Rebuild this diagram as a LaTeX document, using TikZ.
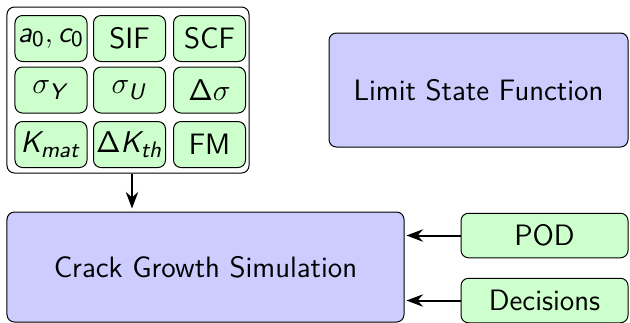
\documentclass[tikz,border=0pt]{standalone}
\usepackage{amsmath}
\usetikzlibrary{arrows.meta,calc}
\DeclareMathAlphabet{\sfit}{OT1}{cmss}{m}{sl}
\DeclareMathAlphabet{\sfup}{OT1}{cmss}{m}{n}

\begin{document}
\begin{tikzpicture}[x=0.4pt, y=-0.4pt, >=Stealth,
  every node/.style={font=\sffamily\fontsize{11.8}{14}\selectfont},
  param/.style={draw, rounded corners=3pt, fill=green!20, line width=0.4pt,
    minimum width=28.8pt, minimum height=18.4pt, inner sep=0.5pt},
  mathparam/.style={param, font=\sffamily\fontsize{12.6}{15}\selectfont},
  block/.style={draw, rounded corners=3pt, fill=blue!20, line width=0.4pt},
  feed/.style={draw, rounded corners=3pt, fill=green!20, line width=0.4pt,
    minimum width=66.8pt, minimum height=17.8pt}]
\useasboundingbox (0,0) rectangle (630,322);

\node[draw, rounded corners=3pt, fill=white, minimum width=96.8pt, minimum height=66.4pt] (grid) at (128,90) {};

\node[mathparam] (a0) at (51,38.5) {$\sfit{a}_{\sfup{0}},\sfit{c}_{\sfup{0}}$};
\node[param] (sif) at (129.5,38.5) {SIF};
\node[param] (scf) at (209.5,38.5) {SCF};
\node[mathparam] (sy) at (51,90) {$\sigma_{\sfit{Y}}$};
\node[mathparam] (su) at (129.5,90) {$\sigma_{\sfit{U}}$};
\node[mathparam] (ds) at (209.5,90) {$\sfup{\Delta}\sigma$};
\node[mathparam] (kmat) at (51,144.5) {$\sfit{K}_{\sfit{mat}}$};
\node[mathparam] (dk) at (129.5,144.5) {$\sfup{\Delta}\sfit{K}_{\sfit{th}}$};
\node[param] (fm) at (209.5,144.5) {FM};

\node[block, minimum width=119.6pt, minimum height=45.6pt] (lsf) at (478.5,90) {Limit State Function};
\node[block, minimum width=158.8pt, minimum height=44pt] (cgs) at (205.5,267) {Crack Growth Simulation};

\node[feed] (pod) at (544.5,235.5) {POD};
\node[feed] (dec) at (544.5,300.5) {Decisions};

\draw[->, thick, shorten >=1.2pt] ([xshift=1.6pt]grid.south) -- ([xshift=1.6pt]grid.south |- cgs.north);
\draw[->, thick] (pod.west) -- ($(cgs.east |- pod.west)+(2,0)$);
\draw[->, thick] (dec.west) -- ($(cgs.east |- dec.west)+(2,0)$);
\end{tikzpicture}
\end{document}
